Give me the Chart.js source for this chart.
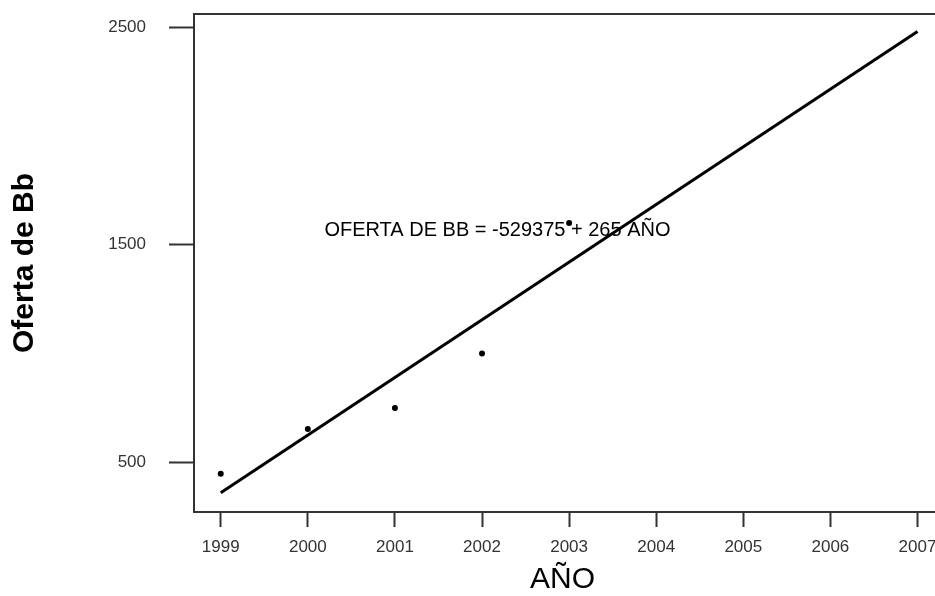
<!DOCTYPE html>
<html>
<head>
<meta charset="utf-8">
<script src="https://cdn.jsdelivr.net/npm/chart.js@4"></script>
<style>
  body { margin: 0; background: #fff; }
  canvas { display: block; }
</style>
</head>
<body>
<canvas id="myChart" width="935" height="596"></canvas>
<script>
// observed values
const years = [1999, 2000, 2001, 2002, 2003];
const oferta = [448, 653, 750, 1000, 1600];

// fitted line end points (OFERTA DE BB = -529375 + 265 AÑO)
const fitYears = [1999, 2007];
const fitValues = [360, 2480];

// tick labels
const xTicks = [1999, 2000, 2001, 2002, 2003, 2004, 2005, 2006, 2007];
const yTicks = [500, 1500, 2500];

const equationText = 'OFERTA DE BB = -529375 + 265 AÑO';
const equationAt = { x: 2000.19, y: 1566 };

const axisColor = '#333';

// frame lines running out to the right edge, and the equation text
const framePlugin = {
    id: 'frame',
    beforeDatasetsDraw(chart) {
        const { ctx, scales } = chart;
        ctx.save();
        ctx.font = '20px "Liberation Sans", Arial, sans-serif';
        ctx.fillStyle = '#000';
        ctx.textAlign = 'left';
        ctx.textBaseline = 'middle';
        ctx.fillText(equationText, scales.x.getPixelForValue(equationAt.x), scales.y.getPixelForValue(equationAt.y));
        ctx.restore();
    },
    afterDraw(chart) {
        const { ctx, chartArea } = chart;
        ctx.save();
        ctx.strokeStyle = axisColor;
        ctx.lineWidth = 2;
        ctx.beginPath();
        ctx.moveTo(chartArea.left, chartArea.top);
        ctx.lineTo(chart.width, chartArea.top);
        ctx.moveTo(chartArea.right - 1, chartArea.bottom);
        ctx.lineTo(chart.width, chartArea.bottom);
        ctx.stroke();
        ctx.restore();
    }
};

const ctx = document.getElementById('myChart').getContext('2d');
const myChart = new Chart(ctx, {
    data: {
        datasets: [
            {
                type: 'line',
                data: fitYears.map((x, i) => ({ x: x, y: fitValues[i] })),
                borderColor: '#000',
                borderWidth: 3,
                pointRadius: 0,
                fill: false
            },
            {
                type: 'scatter',
                data: years.map((x, i) => ({ x: x, y: oferta[i] })),
                backgroundColor: '#000',
                borderWidth: 0,
                pointRadius: 3
            }
        ]
    },
    options: {
        responsive: false,
        animation: false,
        devicePixelRatio: 1,
        layout: { padding: { top: 14, left: 0, right: 0, bottom: 0 } },
        plugins: {
            legend: { display: false },
            tooltip: { enabled: false }
        },
        scales: {
            x: {
                type: 'linear',
                min: 1998.693,
                max: 2007.155,
                afterBuildTicks: axis => { axis.ticks = xTicks.map(v => ({ value: v })); },
                afterFit: axis => {
                    axis.height = 84;
                    axis.paddingLeft = 0;
                    axis.paddingRight = 0;
                },
                grid: {
                    drawOnChartArea: false,
                    tickLength: 15,
                    tickColor: axisColor,
                    tickWidth: 2
                },
                border: { display: true, color: axisColor, width: 2 },
                ticks: {
                    autoSkip: false,
                    maxRotation: 0,
                    padding: 10,
                    color: axisColor,
                    font: { family: '"Liberation Sans", Arial, sans-serif', size: 17 },
                    callback: v => String(v)
                },
                title: {
                    display: true,
                    text: 'AÑO',
                    color: '#000',
                    font: { family: '"Liberation Sans", Arial, sans-serif', size: 30, lineHeight: 1.1 },
                    padding: 0
                }
            },
            y: {
                type: 'linear',
                min: 272,
                max: 2560,
                afterBuildTicks: axis => { axis.ticks = yTicks.map(v => ({ value: v })); },
                afterFit: axis => {
                    axis.width = 194;
                    axis.paddingTop = 0;
                    axis.paddingBottom = 0;
                },
                grid: {
                    drawOnChartArea: false,
                    tickLength: 25,
                    tickColor: axisColor,
                    tickWidth: 2
                },
                border: { display: true, color: axisColor, width: 2 },
                ticks: {
                    padding: 23,
                    color: axisColor,
                    font: { family: '"Liberation Sans", Arial, sans-serif', size: 17 },
                    callback: v => String(v)
                },
                title: {
                    display: true,
                    text: 'Oferta de Bb',
                    color: '#000',
                    font: { family: '"Liberation Sans", Arial, sans-serif', size: 30, weight: 'bold', lineHeight: 1.2 },
                    padding: { top: 7, bottom: 0 }
                }
            }
        }
    },
    plugins: [framePlugin]
});
</script>
</body>
</html>
